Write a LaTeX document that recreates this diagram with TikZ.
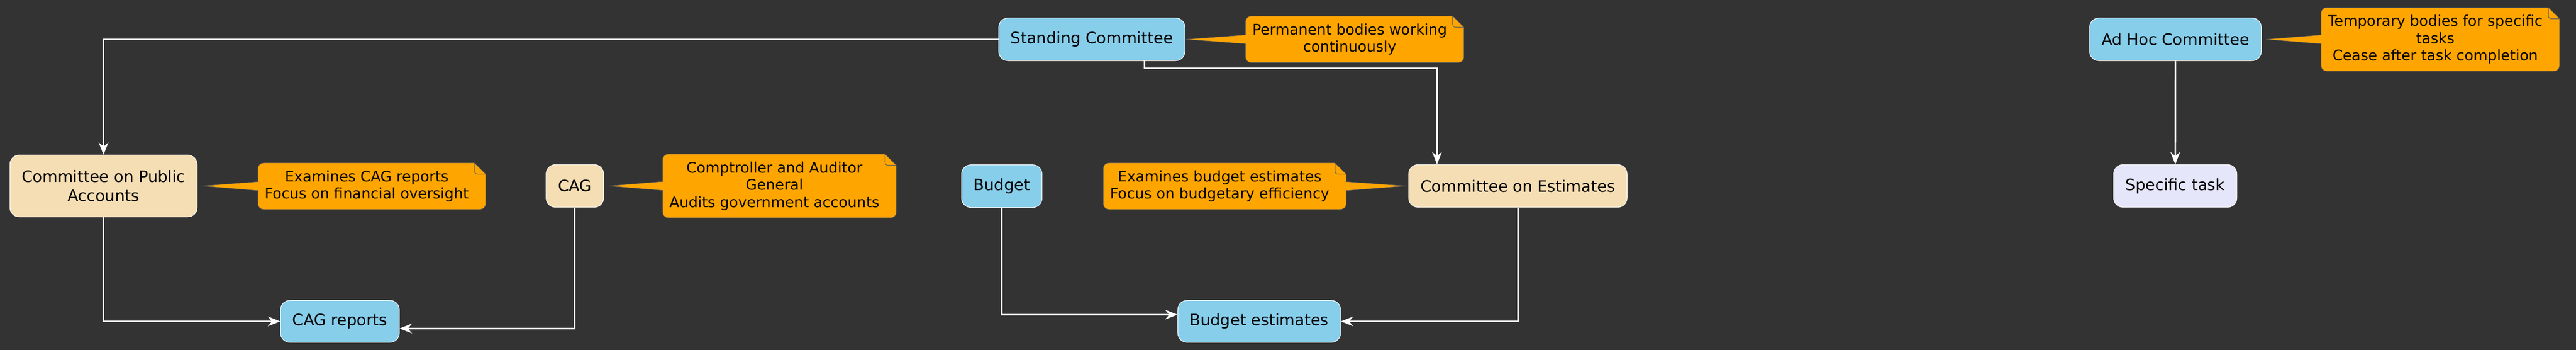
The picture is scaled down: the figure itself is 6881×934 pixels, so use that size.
\documentclass[tikz,border=0pt]{standalone}
\usepackage{fontspec}
\setmainfont{DejaVu Sans}
\usetikzlibrary{arrows.meta}

\definecolor{bgdark}{HTML}{333333}
\definecolor{skyblue}{HTML}{87CEEB}
\definecolor{wheat}{HTML}{F5DEB3}
\definecolor{lavender}{HTML}{E6E6FA}
\definecolor{noteorange}{HTML}{FFA500}
\definecolor{noteline}{HTML}{5C5C5C}

\pgfdeclarelayer{notes}
\pgfsetlayers{notes,main}

% orange note body with folded corner, behind the note text
\newcommand{\notebg}[1]{%
  \begin{pgfonlayer}{notes}
    \draw[notefill] (#1.west) [rounded corners=15pt] -- (#1.north west) [sharp corners] -- ([xshift=-3pt]#1.north east) -- ([xshift=27pt,yshift=-30pt]#1.north east) [rounded corners=15pt] -- ([xshift=27pt]#1.south east) -- (#1.south west) -- cycle;
    \draw[notefold] ([xshift=-3pt]#1.north east) -- ([xshift=-3pt,yshift=-30pt]#1.north east) -- ([xshift=27pt,yshift=-30pt]#1.north east);
  \end{pgfonlayer}}

\begin{document}
\begin{tikzpicture}[x=1pt, y=-1pt,
  comm/.style={draw=white, line width=1.5pt, rounded corners=25pt, inner xsep=32pt, inner ysep=0pt, minimum height=114pt, align=center, font=\fontsize{42}{50}\selectfont},
  bluenode/.style={comm, fill=skyblue},
  wheatnode/.style={comm, fill=wheat},
  tasknode/.style={comm, fill=lavender},
  notetext/.style={anchor=west, inner xsep=18pt, inner ysep=20pt, align=center, font=\fontsize{39}{46}\selectfont},
  notefill/.style={fill=noteorange, draw=noteline, line width=1pt},
  notefold/.style={draw=noteline, line width=1.5pt, rounded corners=8pt},
  flow/.style={draw=white, line width=4pt, -{Stealth[length=33pt, width=26pt, inset=11pt]}}]

\useasboundingbox (0,0) rectangle (6881,934);
\begin{pgfonlayer}{notes}
\fill[bgdark] (0,0) rectangle (6881,934);
\end{pgfonlayer}

% committees and items
\node[bluenode] (sc) at (2916.5,105) {Standing Committee};
\node[bluenode] (adhoc) at (5811,105) {Ad Hoc Committee};
\node[wheatnode, minimum height=165pt] (cpa) at (276.5,496.5) {Committee on Public\\Accounts};
\node[wheatnode] (cag) at (1535.5,496.5) {CAG};
\node[bluenode] (budget) at (2676,497) {Budget};
\node[wheatnode] (coe) at (4054.5,496.5) {Committee on Estimates};
\node[tasknode] (task) at (5810.5,496.5) {Specific task};
\node[bluenode, minimum height=112pt] (cagrep) at (908,858) {CAG reports};
\node[bluenode, minimum height=112pt] (budest) at (3363.5,858) {Budget estimates};

% notes
\node[notetext] (scnote) at (3327,105) {Permanent bodies working\\continuously};
\node[notetext] (adhocnote) at (6200,105) {Temporary bodies for specific\\tasks\\Cease after task completion};
\node[notetext] (cpanote) at (689,497) {Examines CAG reports\\Focus on financial oversight};
\node[notetext] (cagnote) at (1770,496.5) {Comptroller and Auditor\\General\\Audits government accounts};
\node[notetext] (coenote) at (2947,497) {Examines budget estimates\\Focus on budgetary efficiency};

\notebg{scnote}
\notebg{adhocnote}
\notebg{cpanote}
\notebg{cagnote}
\notebg{coenote}

\begin{pgfonlayer}{notes}
\draw[notefill] ([xshift=1.5pt,yshift=12pt]scnote.west) -- ([xshift=2pt]sc.east) -- ([xshift=1.5pt,yshift=-12pt]scnote.west);
\draw[notefill] ([xshift=1.5pt,yshift=12pt]adhocnote.west) -- ([xshift=12pt]adhoc.east) -- ([xshift=1.5pt,yshift=-12pt]adhocnote.west);
\draw[notefill] ([xshift=1.5pt,yshift=12pt]cpanote.west) -- ([xshift=11pt]cpa.east) -- ([xshift=1.5pt,yshift=-12pt]cpanote.west);
\draw[notefill] ([xshift=1.5pt,yshift=12pt]cagnote.west) -- ([xshift=12pt]cag.east) -- ([xshift=1.5pt,yshift=-12pt]cagnote.west);
\draw[notefill] ([xshift=25.5pt,yshift=12pt]coenote.east) -- ([xshift=-4pt]coe.west) -- ([xshift=25.5pt,yshift=-12pt]coenote.east);
\end{pgfonlayer}

% connectors
\draw[flow] (sc.west) -| (cpa.north);
\draw[flow] ([xshift=141pt]sc.south) -- ++(0,20) -| ([xshift=-216pt]coe.north);
\draw[flow] (cpa.south) |- (cagrep.west);
\draw[flow] (cag.south) |- ([yshift=-19pt]cagrep.east);
\draw[flow] (budget.south) |- ([yshift=18pt]budest.west);
\draw[flow] (coe.south) |- (budest.east);
\draw[flow] (adhoc) -- (task);

\end{tikzpicture}
\end{document}
